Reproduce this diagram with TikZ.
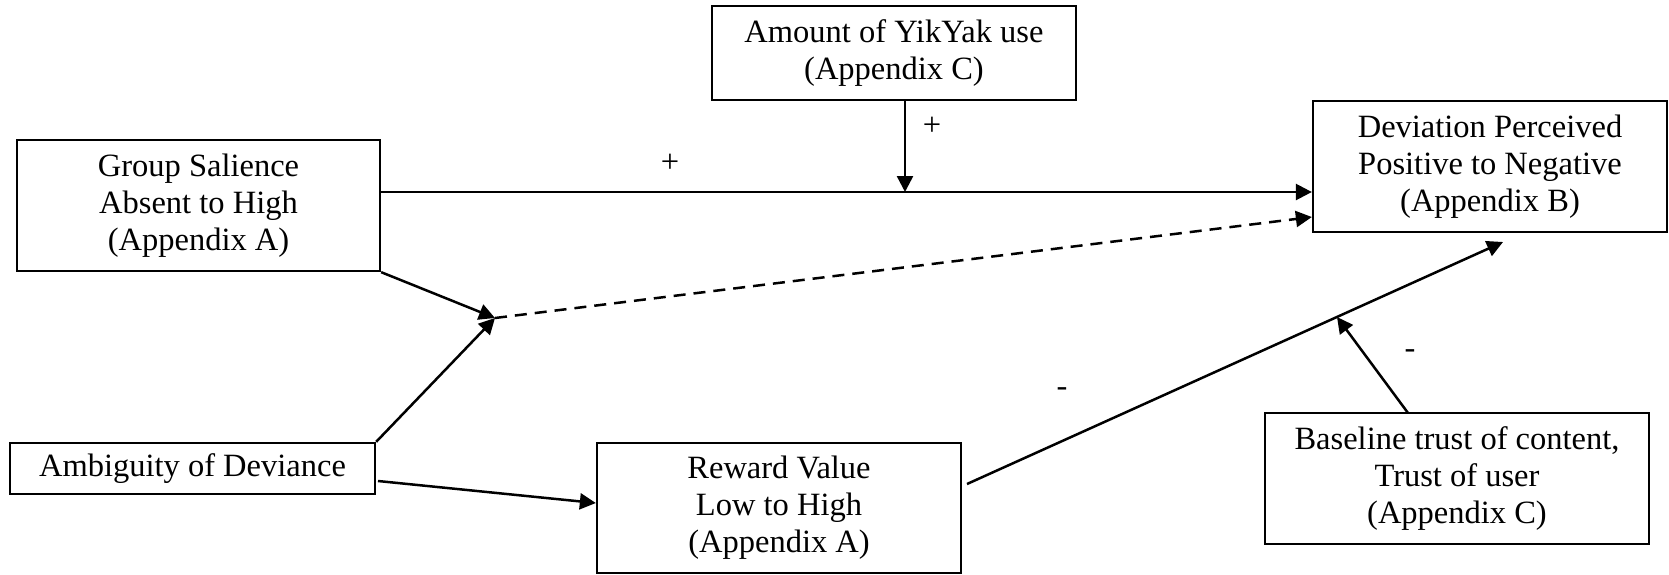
\documentclass[tikz,border=0pt]{standalone}
\usepackage{fontspec}
\setmainfont{Liberation Serif}
\usetikzlibrary{arrows.meta}
\begin{document}
\begin{tikzpicture}[x=1pt,y=-1pt,
  box/.style={draw,line width=2.3pt,inner sep=0pt,align=center,font=\fontsize{32.5}{37}\selectfont},
  arr/.style={line width=2.5pt,-{Triangle[length=16pt,width=16pt]}},
  lbl/.style={font=\fontsize{32.5}{37}\selectfont,inner sep=0pt}]
\useasboundingbox (0,0) rectangle (1669,574);
\node[box,minimum width=363pt,minimum height=131pt] (gs) at (198.5,205.5) {Group Salience\\Absent to High\\(Appendix A)};
\node[box,minimum width=365pt,minimum height=51pt] (amb) at (192.5,468.5) {Ambiguity of Deviance};
\node[box,minimum width=364pt,minimum height=94pt] (amt) at (894,53) {Amount of YikYak use\\(Appendix C)};
\node[box,minimum width=354pt,minimum height=131pt] (dev) at (1490,166.5) {Deviation Perceived\\Positive to Negative\\(Appendix B)};
\node[box,minimum width=364pt,minimum height=130pt] (rew) at (779,508) {Reward Value\\Low to High\\(Appendix A)};
\node[box,minimum width=384pt,minimum height=131pt] (base) at (1457,478.5) {Baseline trust of content,\\Trust of user\\(Appendix C)};
\coordinate (j1) at (905,192);
\coordinate (m) at (495,318);
\coordinate (dd) at (1313,217);
\coordinate (a1) at (378,481);
\coordinate (rin) at (597,503);
\coordinate (r1) at (967,484);
\coordinate (r2) at (1503,242);
\coordinate (j2) at (1337,317);
\coordinate (b1) at (1408,413);
\draw[arr] (gs.east |- j1) -- (dev.west |- j1);
\draw[arr] (j1 |- amt.south) -- (j1);
\draw[arr] (gs.south east) -- (m);
\draw[arr] (amb.north east) -- (m);
\draw[arr,dash pattern=on 12pt off 8pt] (m) -- (dev.west |- dd);
\draw[arr] (a1) -- (rew.west |- rin);
\draw[arr] (r1) -- (r2);
\draw[arr] (b1) -- (j2);
\node[lbl] (p1) at (670,163) {+};
\node[lbl] (p2) at (932,126) {+};
\node[lbl] (n1) at (1062,392) {-};
\node[lbl] (n2) at (1410,354) {-};
\end{tikzpicture}
\end{document}
